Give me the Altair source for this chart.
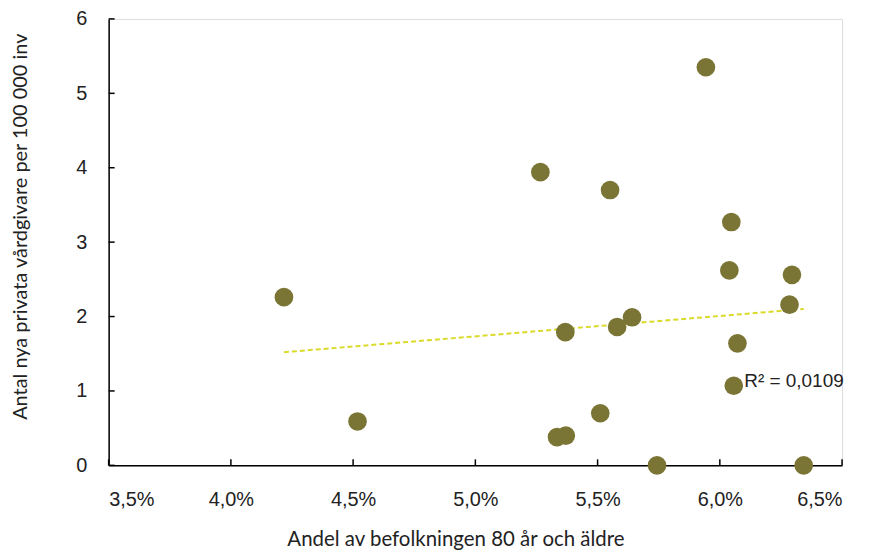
import altair as alt
import pandas as pd

# Andel av befolkningen 80 år och äldre (%)
andel_80 = [4.217, 4.518, 5.266, 5.551, 5.943, 6.047, 6.039, 6.295, 6.285, 5.368,
            5.580, 5.641, 6.072, 6.057, 5.511, 5.334, 5.370, 5.743, 6.343]
# Antal nya privata vårdgivare per 100 000 inv
nya_vardgivare = [2.26, 0.59, 3.94, 3.70, 5.35, 3.27, 2.62, 2.56, 2.16, 1.79,
                  1.86, 1.99, 1.64, 1.07, 0.70, 0.38, 0.40, 0.0, 0.0]

x_ticks = [3.5, 4.0, 4.5, 5.0, 5.5, 6.0, 6.5]
y_ticks = [0, 1, 2, 3, 4, 5, 6]
r2_label = "R² = 0,0109"

df = pd.DataFrame({"x": andel_80, "y": nya_vardgivare})
xt = pd.DataFrame({"t": x_ticks})
yt = pd.DataFrame({"t": y_ticks})
lab = pd.DataFrame({"x": [6.10], "y": [1.13], "txt": [r2_label]})

W, H = 736, 448
label_font = "Liberation Sans"
title_font = "Lato"
OLIVE = "#7A7534"
TREND = "#DADA2A"

xscale = alt.Scale(domain=[3.5, 6.5], nice=False, zero=False)
yscale = alt.Scale(domain=[0, 6], nice=False, zero=False)

xaxis = alt.Axis(
    values=x_ticks,
    labelExpr="replace(format(datum.value, '.1f'), '.', ',') + '%'",
    title="Andel av befolkningen 80 år och äldre",
    grid=False, ticks=False, domainColor="black", domainWidth=1.5,
    labelFont=label_font, labelFontSize=20, labelColor="#222222", labelPadding=24,
    titleFont=title_font, titleFontSize=20.5, titleFontWeight="normal", titleColor="#222222",
    titleX=348, titleY=74, titleBaseline="middle",
)
yaxis = alt.Axis(
    values=y_ticks, format="d",
    title="Antal nya privata vårdgivare per 100 000 inv",
    grid=False, ticks=False, domainColor="black", domainWidth=1.5,
    labelFont=label_font, labelFontSize=20, labelColor="#222222", labelPadding=22,
    titleFont=title_font, titleFontSize=20, titleFontWeight="normal", titleColor="#222222",
    titleX=-88, titleY=208, titleAngle=270, titleBaseline="middle",
)

base = alt.Chart(df)

points = base.mark_circle(size=350, opacity=1, color=OLIVE).encode(
    x=alt.X("x:Q", scale=xscale, axis=xaxis),
    y=alt.Y("y:Q", scale=yscale, axis=yaxis),
)

trend = base.transform_regression("x", "y").mark_line(
    color=TREND, strokeDash=[5, 3], strokeWidth=2
).encode(x=alt.X("x:Q", scale=xscale), y=alt.Y("y:Q", scale=yscale))

xtick_marks = alt.Chart(xt).mark_rule(color="black", strokeWidth=1.5).encode(
    x=alt.X("t:Q", scale=xscale), y=alt.value(H), y2=alt.value(H - 6)
)
ytick_marks = alt.Chart(yt).mark_rule(color="black", strokeWidth=1.5).encode(
    y=alt.Y("t:Q", scale=yscale), x=alt.value(0), x2=alt.value(6)
)

r2 = alt.Chart(lab).mark_text(
    align="left", baseline="middle", font=label_font, fontSize=19, color="#222222"
).encode(x=alt.X("x:Q", scale=xscale), y=alt.Y("y:Q", scale=yscale), text="txt:N")

chart = alt.layer(trend, points, xtick_marks, ytick_marks, r2).properties(
    width=W, height=H,
    autosize=alt.AutoSizeParams(type="none"),
    padding={"left": 101, "top": 10, "right": 20, "bottom": 87},
).configure_view(stroke=None).configure(background="white")

chart.save("out.html", embed_options={"renderer": "svg", "actions": False})
